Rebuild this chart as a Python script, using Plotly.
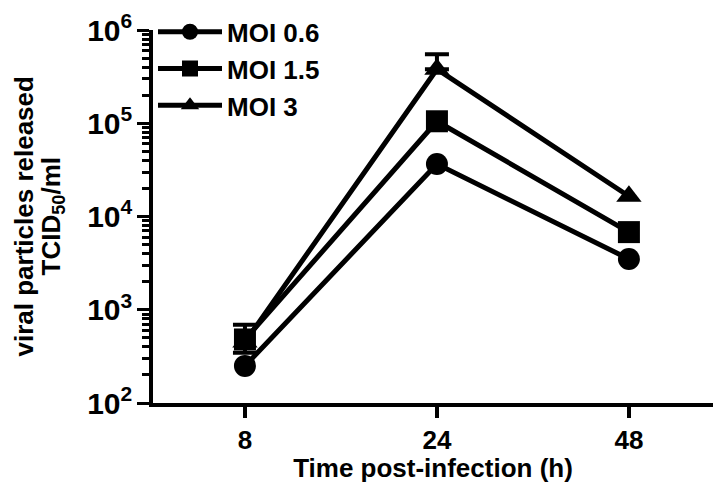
import plotly.graph_objects as go

times = ["8", "24", "48"]
moi_06 = [250, 36500, 3500]
moi_15 = [480, 105000, 6800]
moi_3 = [450, 380000, 16500]
err_15_up = [210, None, None]
err_15_down = [135, None, None]
err_3_up = [None, 170000, None]
err_3_down = [None, 0, None]

y_title_1 = "viral particles released"
y_title_2 = "TCID<sub>50</sub>/ml"
x_title = "Time post-infection (h)"

series = [
    ("MOI 3", moi_3, "triangle-up", 3, err_3_up, err_3_down),
    ("MOI 1.5", moi_15, "square", 2, err_15_up, err_15_down),
    ("MOI 0.6", moi_06, "circle", 1, None, None),
]

fig = go.Figure()
for name, vals, sym, rank, eu, ed in series:
    if eu is not None:
        idx = [i for i, e in enumerate(eu) if e is not None]
        fig.add_trace(go.Scatter(
            x=[times[i] for i in idx], y=[vals[i] for i in idx],
            mode="markers", marker=dict(size=1, opacity=0, color="black"),
            error_y=dict(type="data", symmetric=False,
                         array=[eu[i] for i in idx], arrayminus=[ed[i] for i in idx],
                         color="black", thickness=4, width=12),
            showlegend=False, hoverinfo="skip"))
    fig.add_trace(go.Scatter(
        x=times, y=vals, name=name, mode="lines+markers", legendrank=rank,
        line=dict(color="black", width=5),
        marker=dict(symbol=sym, size=22, color="black"),
    ))

font = "Liberation Sans, Arial, sans-serif"
bold = dict(family=font, size=26, color="black", weight="bold")

fig.update_layout(
    width=705, height=475,
    margin=dict(l=145, r=0, t=12, b=80),
    plot_bgcolor="white", paper_bgcolor="white",
    font=dict(family=font, size=26, color="black"),
    showlegend=True,
    legend=dict(x=0, y=1.058, xanchor="left", yanchor="top", bgcolor="rgba(0,0,0,0)",
                font=bold, itemwidth=64, tracegroupgap=0),
    xaxis=dict(type="category", categoryorder="array", categoryarray=times,
               range=[-0.479, 2.438], showline=True, linecolor="black",
               linewidth=4, ticks="outside", ticklen=11, tickwidth=4, tickcolor="black",
               showgrid=False, zeroline=False, tickfont=bold,
               title=dict(text=x_title, standoff=6, font=bold)),
    yaxis=dict(type="log", range=[2, 6], showline=True, linecolor="black", linewidth=4,
               ticks="outside", ticklen=12, tickwidth=3, tickcolor="black",
               showgrid=False, zeroline=False, ticklabeloverflow="allow",
               tickmode="linear", tick0=0, dtick=1, exponentformat="power",
               tickfont=dict(family=font, size=24, color="black", weight="bold"),
               minor=dict(dtick="D1", ticks="outside",
                          ticklen=7, tickwidth=3, tickcolor="black", showgrid=False)),
    annotations=[
        dict(text=y_title_1, xref="paper", yref="paper", x=0, y=0.5, xshift=-130,
             xanchor="center", yanchor="middle", textangle=-90, showarrow=False, font=bold),
        dict(text=y_title_2, xref="paper", yref="paper", x=0, y=0.5, xshift=-101,
             xanchor="center", yanchor="middle", textangle=-90, showarrow=False, font=bold),
    ],
)

fig.write_html("out.html")
